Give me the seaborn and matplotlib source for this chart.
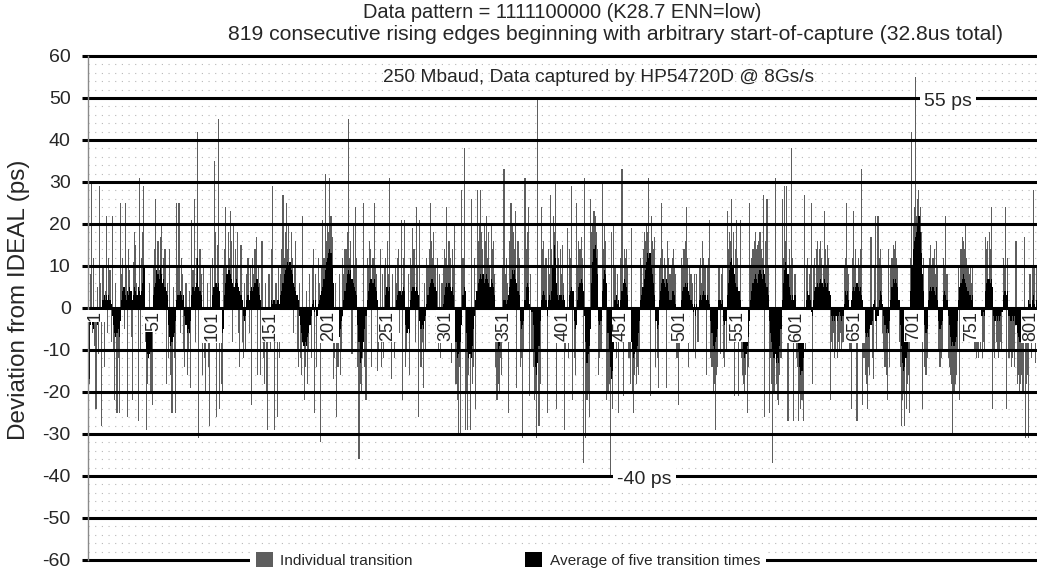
import numpy as np
import pandas as pd
import matplotlib
matplotlib.use("Agg")
import matplotlib.pyplot as plt
import seaborn as sns
from matplotlib.patches import Patch

# ---------------- data ----------------
individual_001_100 = [
    -18, 8, 30, -6, 12, -9, -24, 5, -11, 29,
    6, -28, 10, -14, 4, 22, -6, 12, 9, -8,
    22, -10, -22, 6, -25, -12, -25, 25, 8, 12,
    -5, 25, 10, -26, 14, 9, -7, -22, 11, 18,
    15, 6, -27, 31, -10, 12, 18, 29, -8, -29,
    -18, -12, 6, -20, -23, 10, 14, 26, 3, 16,
    9, 17, 20, -4, 12, 14, -18, 6, -12, 14,
    -16, -25, 5, -12, -25, 25, 10, 25, -6, 12,
    8, -10, -14, 6, -16, -10, 4, -19, 21, 9,
    26, -8, 12, 42, -31, 14, 8, -16, 10, -12,
]
individual_101_200 = [
    -20, 6, -14, -28, 10, -8, 12, 35, 18, -26,
    15, 45, -24, -18, -20, 10, 14, 24, 10, 18,
    12, 23, 16, -8, 20, 14, 10, 18, -6, -14,
    15, -8, -12, 6, -10, 8, 12, -6, 10, -23,
    12, 8, 14, 17, -16, 10, 6, -16, 16, -12,
    -18, 6, -20, -29, 8, -10, 14, 29, -8, -29,
    6, -26, 10, -12, 8, 14, 27, 12, 18, 25,
    14, 20, 8, 18, 12, -6, 10, 16, -10, -14,
    6, -12, -16, 22, -22, -14, 4, -18, -10, 8,
    -12, 10, 14, -25, 8, -14, 12, 6, -32, 10,
]
individual_201_300 = [
    21, 12, 32, 16, 20, 18, 31, 22, 17, -17,
    -12, 6, -26, -14, 8, -16, -10, 12, 8, 14,
    14, 18, 45, 12, 16, -11, 20, 10, 24, 12,
    -14, -36, -18, -20, -12, 25, -14, -22, 12, 10,
    16, 14, -14, 12, 25, 10, 8, -15, -10, 14,
    -14, 8, -12, 10, 12, 16, 8, 31, -8, -17,
    8, -12, 10, 6, 12, 14, -6, 21, -22, 12,
    21, -14, -10, 8, -16, 12, 10, 19, 14, -8,
    24, 10, -26, 21, -14, -8, -19, 6, -10, 12,
    10, 14, 25, 16, 12, 18, 10, -6, 12, -10,
]
individual_301_400 = [
    8, -12, 6, 10, 14, 12, 24, 10, 16, 12,
    -13, 14, 10, 20, -18, -22, -30, -14, -30, 28,
    12, 38, -29, -20, -29, -16, -29, 26, -18, -14,
    12, -24, 28, 16, 20, 28, 18, 14, 20, 16,
    22, 12, 18, 10, 20, 14, 16, 8, -14, -22,
    -18, -20, -12, -16, 10, 33, 8, 12, 6, -25,
    16, 25, 20, 18, 14, 23, -19, 16, 12, -14,
    -12, -31, -10, 31, 14, 18, 24, -21, 8, -10,
    -14, -22, -20, -31, 50, -28, -18, 24, 14, 16,
    10, 12, -25, 14, 8, 27, 14, 22, 18, 30,
]
individual_401_500 = [
    -24, 16, 12, 14, 8, 15, 6, -29, -10, 19,
    -12, 14, 12, 29, -22, -12, -16, 25, 10, 16,
    14, 17, 12, -37, 31, -31, -22, -20, -26, 26,
    18, 20, 23, 22, 18, 14, -16, -12, -10, 30,
    14, 20, 16, -22, -20, -18, -40, 18, -24, 20,
    10, -12, 8, -25, -8, 12, 33, -21, 14, 12,
    14, 10, -12, -18, 19, -20, -25, -16, -18, -14,
    -16, -10, 12, 10, 14, 18, 16, 20, 18, 31,
    -21, 22, 16, 14, 17, -14, -12, -19, 10, 12,
    25, 14, 12, 10, -19, 16, 12, 8, 10, 12,
]
individual_501_600 = [
    14, 10, 8, -12, -23, -10, -8, 12, 10, 14,
    16, 24, 12, -14, 10, 8, 6, -10, 8, -12,
    8, -8, 10, 12, 6, 16, 12, 10, -16, 10,
    12, 21, -12, -14, -20, -18, -29, -16, -14, 10,
    -11, 8, 10, -12, -14, -10, 23, 14, 18, 16,
    26, 18, -21, 14, 21, 12, -21, 21, -12, -16,
    -18, -20, -16, -25, -14, 25, 10, 12, 14, 16,
    18, 14, 15, 16, 18, 14, 12, 27, -26, 16,
    26, 10, -25, -12, -18, -37, -20, 31, -18, -22,
    -23, -16, -12, 26, 12, 29, 16, 29, -27, 14,
]
individual_601_700 = [
    10, 38, 12, -27, 8, -12, -14, -27, -20, -24,
    -22, -27, 27, -10, 10, 12, 8, 10, 25, -18,
    10, 12, 14, 16, 10, 14, 16, 12, 10, 23,
    14, 10, 15, 12, -22, -8, -10, -6, -12, -10,
    -12, -8, -10, -6, -10, -8, 10, 12, 25, 10,
    8, -10, -24, 12, 23, 10, 14, -27, 12, 10,
    14, 33, -23, -12, -16, -18, -24, -14, -16, 17,
    -12, -17, 10, 22, -10, 22, 12, 14, 10, -6,
    -10, -14, -16, -22, 14, -14, 10, 12, 15, 14,
    16, 12, 10, -8, -14, -28, -22, -20, -28, -24,
]
individual_701_819 = [
    -18, -16, -25, 12, 42, 20, 24, 55, 22, 26,
    28, 24, 18, -24, 12, -14, -16, -12, 10, 12,
    15, 10, 12, 14, 8, 16, 10, -10, -14, -12,
    -10, 12, 10, 22, 8, -12, -14, -16, -18, -30,
    -20, -18, -16, -10, 10, -22, 14, 17, 16, 14,
    20, 12, 10, 8, 10, 6, 10, -8, -10, -12,
    -10, -12, -8, -10, -12, -8, -10, 17, 14, 16,
    18, 14, 24, -24, -10, -12, -8, -10, -12, -10,
    -8, -10, 12, 10, 24, -24, 12, -12, -10, -14,
    -12, -10, -14, 16, -18, -16, -20, -18, -16, -20,
    17, -31, -18, -16, -31, 8, -12, 10, 28, 10,
    -13, 10, 8, -10, 12, 14, 8, -12, 10,
]

average_001_100 = [
    -17, -4, -3, -4, -5, -3, -2, -4, -3, -2,
    -3, -2, 2, 3, 2, 3, 2, 3, 2, 1,
    -2, -4, -6, -7, -6, -5, -7, -3, 2, 4,
    5, 3, 2, 4, 3, 5, 4, 2, 3, 5,
    4, 3, 5, 4, 3, 4, 6, 10, -2, -10,
    -11, -12, -11, -10, -4, 3, 5, 6, 9, 8,
    7, 10, 8, 6, 7, 5, 4, 3, -4, -7,
    -9, -8, -7, -6, -3, 2, 3, 3, 4, 3,
    2, 3, -2, -4, -6, -5, -6, -3, 3, 5,
    4, 5, 6, 12, 5, 4, 3, -1, -2, -2,
]
average_101_200 = [
    -3, -2, -1, -2, -2, -1, 3, 5, 6, 6,
    5, 6, 4, -4, -6, -5, 3, 6, 8, 9,
    9, 8, 7, 6, 5, 6, 7, 6, 5, 4,
    3, 2, -2, -3, -2, 2, 3, 2, 4, 5,
    4, 5, 6, 7, 7, 5, 3, 2, -2, -4,
    -5, -6, -7, -5, -3, -1, 2, 1, 2, 2,
    1, 2, 2, 1, 3, 4, 6, 8, 9, 10,
    11, 10, 11, 9, 8, 6, 5, 4, 3, 2,
    -2, -4, -6, -8, -9, -8, -9, -7, -6, -4,
    -2, 1, 2, -1, 2, -2, 1, 2, 3, 4,
]
average_201_300 = [
    5, 7, 9, 11, 12, 13, 14, 13, 10, 6,
    -3, -5, -7, -6, -7, -5, -3, -2, 2, 4,
    6, 8, 9, 8, 9, 7, 6, 5, 4, 3,
    -4, -8, -13, -12, -10, -8, -5, -2, 2, 4,
    6, 7, 7, 6, 7, 5, 4, 2, -2, -3,
    -4, -4, -3, -2, 3, 5, 4, 5, -2, -2,
    -2, -1, -2, 2, 3, 4, 4, 3, 4, 5,
    4, -4, -6, -5, -6, 2, 4, 5, 5, 4,
    5, 4, 3, -3, -5, -4, -5, -3, -2, 1,
    3, 5, 6, 7, 7, 6, 5, 4, -1, -1,
]
average_301_400 = [
    -1, -2, -1, 1, 3, 5, 6, 5, 6, 5,
    4, 5, 3, -4, -8, -12, -11, -10, -8, -4,
    3, 5, 4, -6, -10, -12, -11, -12, -9, -5,
    -2, 2, 4, 6, 7, 8, 7, 8, 6, 7,
    8, 7, 6, 5, 7, 6, 5, 3, -4, -8,
    -10, -9, -8, -6, -3, 2, 2, 1, 2, 3,
    5, 7, 9, 8, 9, 7, 6, 4, 3, -3,
    -5, -4, -3, 2, 5, 6, 5, 1, 0, -1,
    -4, -10, -14, -16, -13, -9, -3, 2, 3, 4,
    3, 2, -2, 2, 3, 2, 4, 10, 15, 12,
]
average_401_500 = [
    6, 3, 2, 3, 3, 2, 3, 2, -3, -2,
    -3, 3, 4, 5, 4, -3, -5, -4, 2, 5,
    6, 7, 6, 4, -2, -8, -13, -11, -9, -5,
    6, 11, 14, 15, 12, 8, -3, -4, -3, 4,
    7, 9, 8, 6, -6, -10, -14, -17, -15, -10,
    2, 3, 1, 2, -1, 2, 4, 6, 7, 6,
    5, 3, -2, -5, -8, -10, -12, -11, -10, -9,
    -6, -3, 2, 3, 5, 7, 9, 11, 13, 12,
    13, 10, 8, 6, 3, -3, -5, -4, 2, 4,
    6, 7, 6, 5, 7, 6, 4, 2, 2, 4,
]
average_501_600 = [
    4, 3, 1, -1, -2, -2, -1, 2, 4, 5,
    6, 5, 6, 4, 3, 2, 1, -1, 1, -2,
    1, 0, 2, 3, 2, 3, 4, 3, 2, 3,
    2, 1, -3, -6, -9, -10, -8, -7, -5, 2,
    2, 1, 2, -3, -4, -3, 3, 6, 9, 11,
    12, 10, 8, 6, 5, 5, 4, 2, -3, -6,
    -10, -12, -11, -9, -7, -3, 2, 4, 6, 7,
    8, 7, 6, 8, 9, 8, 7, 9, 8, 6,
    5, 3, -3, -6, -8, -10, -12, -11, -13, -12,
    -13, -9, -5, 2, 6, 9, 11, 10, 8, 5,
]
average_601_700 = [
    3, 2, 3, 2, 3, -3, -6, -10, -14, -16,
    -15, -12, -8, -3, 2, 4, 3, 2, -1, -2,
    2, 4, 5, 6, 5, 6, 7, 6, 5, 7,
    6, 5, 6, 4, 3, -2, -3, -2, -3, -2,
    -3, -2, -1, -2, -3, -2, 1, 4, 3, 4,
    2, -1, 2, 4, 5, 4, 5, 6, 5, 4,
    5, 3, 2, -4, -6, -7, -6, -7, -5, -4,
    -3, 1, 2, -3, -3, -2, 2, 4, 3, 1,
    -2, -4, -6, -5, -6, -3, 2, 5, 7, 6,
    7, 6, 5, 2, -4, -9, -13, -15, -14, -12,
]
average_701_819 = [
    -10, -6, -3, 4, 10, 14, 16, 17, 18, 20,
    22, 18, 13, 8, 4, -4, -6, -5, 2, 4,
    5, 4, 5, 4, 3, 5, 2, -3, -5, -4,
    -3, 3, 4, 3, 2, -2, -4, -7, -9, -8,
    -9, -8, -7, -3, 2, 5, 6, 7, 8, 7,
    6, 5, 4, 3, 3, 2, 3, -1, -1, -2,
    -2, -2, -1, -2, -2, -1, -2, 4, 6, 7,
    7, 6, 7, 5, -2, -3, -2, -3, -2, -3,
    -2, -1, 3, 4, 4, 3, 4, -2, -3, -3,
    -2, -3, -2, -4, -6, -7, -8, -8, -7, -8,
    -6, -7, -5, -3, 2, 1, -2, 2, 3, 1,
    -2, 2, 1, -1, 2, 3, 1, -2, 1,
]

category_labels = [1, 51, 101, 151, 201, 251, 301, 351, 401, 451,
                   501, 551, 601, 651, 701, 751, 801]
y_ticks = [-60, -50, -40, -30, -20, -10, 0, 10, 20, 30, 40, 50, 60]

title_1 = "Data pattern = 1111100000 (K28.7 ENN=low)"
title_2 = "819 consecutive rising edges beginning with arbitrary start-of-capture (32.8us total)"
title_3 = "250 Mbaud, Data captured by HP54720D @ 8Gs/s"
y_title = "Deviation from IDEAL (ps)"
series_names = ["Individual transition", "Average of five transition times"]
annotations = [("55 ps", 715.5, 51.2), ("-40 ps", 453.0, -38.8)]

# ---------------- assemble ----------------
individual = (individual_001_100 + individual_101_200 + individual_201_300 +
              individual_301_400 + individual_401_500 + individual_501_600 +
              individual_601_700 + individual_701_819)
average = (average_001_100 + average_101_200 + average_201_300 +
           average_301_400 + average_401_500 + average_501_600 +
           average_601_700 + average_701_819)
assert len(individual) == 819, len(individual)
assert len(average) == 819, len(average)
transition = list(range(1, 820))
df = pd.DataFrame({"transition": transition,
                   "individual": individual,
                   "average": average})

sns.set_style("white")
plt.rcParams["font.family"] = ["Liberation Sans", "DejaVu Sans"]

W, H = 1037, 569
fig = plt.figure(figsize=(W / 100, H / 100), dpi=100)
ax = fig.add_axes([88 / W, 9 / H, 949 / W, 504 / H])

GRAY = "#5e5e5e"

# minor dotted gridlines
for v in range(-58, 60, 2):
    if v % 10 != 0:
        ax.axhline(v, color="#b8b8b8", lw=0.8, dashes=(1, 5), zorder=0.5)

sns.barplot(data=df, x="transition", y="individual", native_scale=True,
            width=0.95, color=GRAY, saturation=1, errorbar=None,
            linewidth=0, ax=ax, zorder=1)

for v in y_ticks:
    ax.axhline(v, color="black", lw=2.2, zorder=2.5, clip_on=False)

sns.barplot(data=df, x="transition", y="average", native_scale=True,
            width=1.0, color="black", saturation=1, errorbar=None,
            linewidth=0, ax=ax, zorder=3)

ax.set_xlim(0.15, 812)
ax.set_ylim(-60, 60)
ax.set_xlabel("")
ax.set_ylabel("")
ax.set_xticks([])
ax.set_yticks(y_ticks)
ax.set_yticklabels([str(t) for t in y_ticks], fontsize=14)
ax.tick_params(axis="y", length=4.5, width=2.2, color="black", pad=8,
               left=True)
for s in ["top", "right", "bottom"]:
    ax.spines[s].set_visible(False)
ax.spines["left"].set_color("#8a8a8a")
ax.spines["left"].set_linewidth(1.0)
ax.spines["left"].set_zorder(4)

# category labels on the zero line
for c in category_labels:
    ax.text(c + 5.3, -0.8, str(c), rotation=90, ha="center", va="top",
            fontsize=13, zorder=6,
            bbox=dict(boxstyle="square,pad=0.06", fc="white", ec="none"))

for txt, xv, yv in annotations:
    ax.text(xv, yv, txt, ha="left", va="top", fontsize=14, zorder=7,
            bbox=dict(boxstyle="square,pad=0.2", fc="white", ec="none"))

# titles
fig.text(562 / W, 1 - 13 / H, title_1, ha="center", va="center", fontsize=14.4)
fig.text(616 / W, 1 - 35 / H, title_2, ha="center", va="center", fontsize=15.2)
fig.text(599 / W, 1 - 77 / H, title_3, ha="center", va="center", fontsize=13.8)
fig.text(19 / W, 1 - 300 / H, y_title, rotation=90, ha="center",
         va="center", fontsize=17.5)

handles = [Patch(facecolor=GRAY, edgecolor="none", label=series_names[0]),
           Patch(facecolor="black", edgecolor="none", label=series_names[1])]
leg = ax.legend(handles=handles, loc="center", bbox_to_anchor=(0.4426, 0.0),
                ncol=2, frameon=True, facecolor="white", edgecolor="none",
                framealpha=1, fancybox=False, fontsize=11.1,
                handlelength=1.1, handleheight=1.1, handletextpad=0.5,
                columnspacing=7.3, borderpad=0.35, borderaxespad=0)
leg.set_zorder(8)

fig.savefig("out.png", dpi=100)
